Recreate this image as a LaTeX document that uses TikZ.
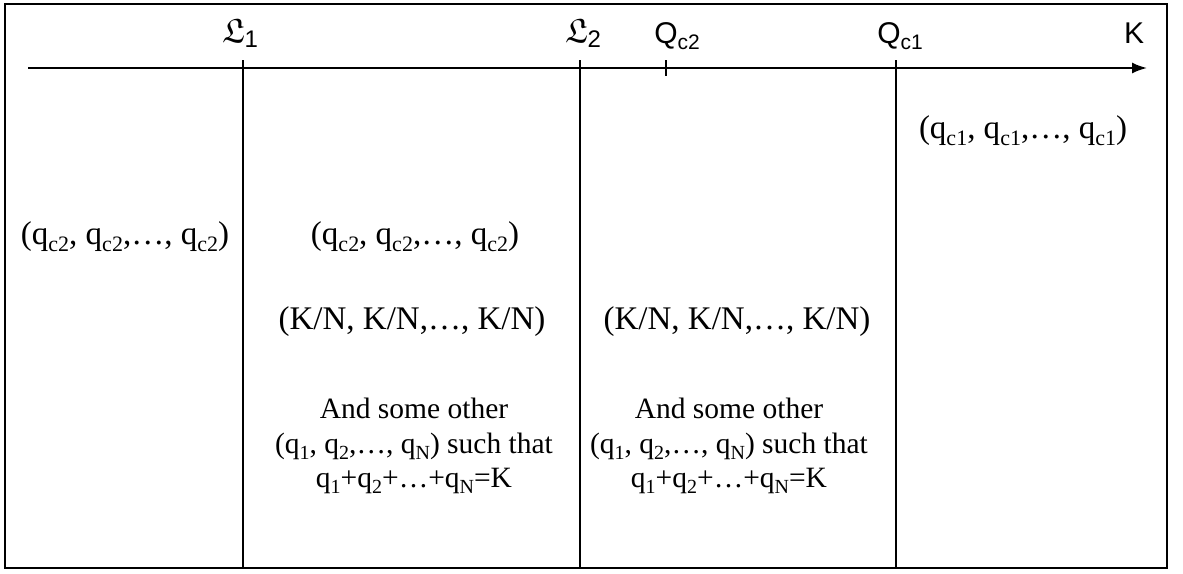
\documentclass[tikz,border=0pt]{standalone}
\usepackage{amssymb}
\usepackage{fontspec}
\setmainfont{Liberation Serif}
\newfontfamily\arialf{Liberation Sans}
\usetikzlibrary{arrows.meta}
\newcommand\sbx[1]{\raisebox{-0.45ex}{\fontsize{22}{22}\selectfont #1}}
\newcommand\sbs[1]{\raisebox{-0.45ex}{\fontsize{20}{20}\selectfont #1}}
\newcommand\ssb[1]{\raisebox{-0.4ex}{\fontsize{21}{21}\selectfont #1}}
\newcommand\lsb[1]{\raisebox{-0.3ex}{\fontsize{24}{24}\selectfont #1}}
\tikzset{
  body/.style={font=\fontsize{33}{33}\selectfont, inner sep=0pt, align=center},
  block/.style={font=\fontsize{29.5}{34.5}\selectfont, inner sep=0pt, align=center},
  lab/.style={font=\arialf\fontsize{30}{30}\selectfont, inner sep=0pt, anchor=base},
  vline/.style={line width=1.1pt},
}
\begin{document}
\begin{tikzpicture}[x=1pt,y=-1pt]
\useasboundingbox (0,0) rectangle (1183,573);
\draw[line width=2.6pt] (5,4) rectangle (1167,568);
% axis
\coordinate (a0) at (28,68);
\coordinate (a1) at (1147,68);
\draw[line width=2pt,-{Latex[length=15pt,width=11pt]}] (a0) -- (a1);
% vertical lines
\coordinate (l1t) at (243,60); \coordinate (l1b) at (243,567);
\coordinate (l2t) at (580,60); \coordinate (l2b) at (580,567);
\coordinate (q1t) at (896,60); \coordinate (q1b) at (896,567);
\coordinate (q2t) at (666,60); \coordinate (q2b) at (666,76);
\draw[vline] (l1t) -- (l1b);
\draw[vline] (l2t) -- (l2b);
\draw[vline] (q1t) -- (q1b);
\draw[vline] (q2t) -- (q2b);
% axis labels
\node[lab] (L1) at (240,42) {\fontsize{34}{34}\selectfont$\mathfrak{L}$\lsb{1}};
\node[lab] (L2) at (583,42) {\fontsize{34}{34}\selectfont$\mathfrak{L}$\lsb{2}};
\node[lab] (Qc2) at (677,43) {Q\ssb{c2}};
\node[lab] (Qc1) at (900,43) {Q\ssb{c1}};
\node[lab] (K) at (1134,43) {K};
% texts
\node[body] (t1) at (1023,131) {(q\sbx{c1}, q\sbx{c1},…, q\sbx{c1})};
\node[body] (t2) at (125,237) {(q\sbx{c2}, q\sbx{c2},…, q\sbx{c2})};
\node[body] (t3) at (415,237) {(q\sbx{c2}, q\sbx{c2},…, q\sbx{c2})};
\node[body] (t4) at (412,322) {(K/N, K/N,…, K/N)};
\node[body] (t5) at (737,322) {(K/N, K/N,…, K/N)};
\node[block] (t6) at (414,446) {And some other\\(q\sbs{1}, q\sbs{2},…, q\sbs{N}) such that\\q\sbs{1}+q\sbs{2}+…+q\sbs{N}=K};
\node[block] (t7) at (729,446) {And some other\\(q\sbs{1}, q\sbs{2},…, q\sbs{N}) such that\\q\sbs{1}+q\sbs{2}+…+q\sbs{N}=K};
\end{tikzpicture}
\end{document}
